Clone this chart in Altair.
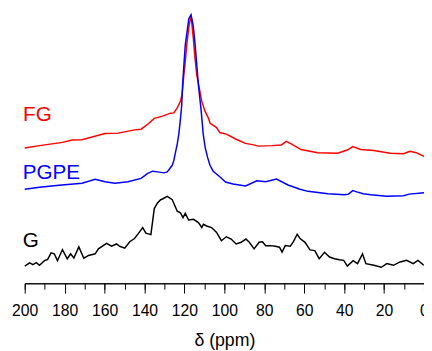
import altair as alt
import pandas as pd

series_names = ["FG", "PGPE", "G"]
series_colors = ["#ff0000", "#0000ff", "#000000"]

fg_ppm = [200, 192.6, 181.1, 176.2, 171.3, 159.8, 153.2, 145, 141.7, 138.4, 135.1, 131, 127, 125.3,
          123.6, 122, 121.2, 120.3, 119.6, 118.7, 117.8, 116.7, 115.6, 114.6, 113.8, 111.3,
          109.7, 108, 107.2, 103.9, 102.3, 99, 94.1, 89.5, 85.9, 82.9, 76.4, 71.4, 69, 66.5, 61.6,
          53.3, 43.3, 38.4, 35.7, 31.7, 25.1, 17, 10.3, 7, 3.9, 0]
fg_int = [137.5, 140, 143.3, 145.7, 146, 152.3, 152.7, 156, 156.7, 161.7, 167.7, 170, 173, 173.3,
          178.3, 185, 191.7, 211.7, 225, 245, 260, 273, 250, 227, 211.7, 185,
          175, 168, 163, 158.3, 153.3, 151.7, 146.5, 142.3, 141, 139.5, 140, 140.7, 144.3, 141.7, 136,
          132.7, 132.3, 135.5, 139, 136, 135, 132.3, 131.7, 134.3, 132.8, 129]

pgpe_ppm = [200, 192.6, 182.8, 171.3, 164.7, 159.8, 154.8, 148.3, 141.7, 138.4, 135.9, 133.5, 130.2,
            128.6, 126.1, 125.3, 123.6, 122.8, 122, 121.4, 120.9, 119.6, 117.8, 116.7, 115.6, 114.6,
            113, 111.6, 110.6, 109.6, 108.4, 107.2, 105.6, 102.3, 99.4, 95.7, 89.4, 83.7, 79.3, 73.9,
            68.1, 62.1, 58.1, 48.1, 39.9, 37.8, 35.7, 33.3, 30.4, 26.7, 18.7, 10.3, 7.4, 0]
pgpe_int = [95.7, 97.7, 99.7, 101.7, 105.7, 103.3, 101.7, 103.3, 106.7, 111.7, 114, 113.3, 112.3,
            113.3, 120, 125, 141.7, 152, 167, 180, 202, 242, 269, 273, 262, 241.7,
            201.7, 175, 152, 138, 128, 120, 114, 108.3, 103, 101, 99, 104.3, 103.3, 106,
            100, 95.7, 93.5, 91, 90, 90.7, 94.2, 92.7, 91, 90, 88.5, 89, 90.7, 92]

g_ppm = [200, 197.5, 195.9, 194.2, 192.6, 190.1, 188.5, 186.8, 185.2, 183.6, 181.1, 178.7, 177, 175.4,
         172.9, 170.4, 168, 164.7, 163.1, 159, 156.5, 154, 152.4, 149.9, 147.4, 145, 143.3, 140.9,
         139.3, 136.8, 135.1, 133.5, 131.9, 131, 128.6, 126.1, 123.6, 122, 120.7, 119.6, 117.9, 115.4,
         113, 111.3, 110.5, 108.9, 106.4, 103.9, 101.5, 99, 96.6, 94.1, 91.6, 89.2, 87.5, 85.1, 82.6,
         80.9, 79.3, 76.8, 74.4, 72.4, 71.1, 69.5, 67, 65.4, 63.5, 62.1, 59.6, 57.1, 54.7, 52.5, 49.8,
         47.3, 44.8, 42.4, 40.2, 38.4, 35.5, 33.3, 30.8, 29.1, 25.1, 21.4, 18.6, 15.3, 12, 8.7, 5.4,
         3, 0.1]
g_int = [17.5, 20.8, 19, 21, 18.3, 23, 24.3, 31, 30, 23, 34.3, 25, 30, 25.7,
         37, 25.5, 28.3, 30, 35, 40.7, 37.7, 40, 37.7, 35.7, 42.3, 45.5, 50, 56.7,
         51, 49.5, 76, 81.7, 85, 85.7, 88.3, 85, 73.3, 71.7, 66.7, 71, 64.3, 65,
         61.7, 56.7, 60, 58.3, 56.7, 51.7, 43.3, 47.3, 45, 40, 41.7, 45, 41.7, 35, 41.7,
         42.3, 38.3, 38.3, 37.7, 36.7, 31.7, 38.3, 37.7, 42.3, 50, 45.5, 41.7, 34, 33.3, 25, 31.5,
         26.7, 25, 24, 23.3, 17.5, 23, 20, 30, 20, 18.3, 16.3, 20, 18.3, 21.7, 23.3, 20,
         23.3, 18.3]

label_ppm = [200.8, 201, 201]
label_int = [165, 106, 37]

minor_ticks = list(range(0, 201, 10))
major_ticks = list(range(0, 201, 20))

df = pd.concat([
    pd.DataFrame({"ppm": fg_ppm, "intensity": fg_int, "series": "FG"}),
    pd.DataFrame({"ppm": pgpe_ppm, "intensity": pgpe_int, "series": "PGPE"}),
    pd.DataFrame({"ppm": g_ppm, "intensity": g_int, "series": "G"}),
])
lab_df = pd.DataFrame({"ppm": label_ppm, "intensity": label_int, "series": series_names})

color = alt.Color("series:N", scale=alt.Scale(domain=series_names, range=series_colors), legend=None)
y_enc = alt.Y("intensity:Q", scale=alt.Scale(domain=[0, 277], nice=False, zero=False), axis=None)

lines = alt.Chart(df).mark_line(strokeWidth=1.5, clip=False).encode(
    x=alt.X("ppm:Q", scale=alt.Scale(domain=[200, 0], nice=False, zero=False),
            axis=alt.Axis(values=minor_ticks, labels=False, tickSize=6, title=None, grid=False,
                          orient="bottom", domainColor="black", tickColor="black")),
    y=y_enc,
    color=color,
    detail="series:N",
)

labels = alt.Chart(lab_df).mark_text(align="left", baseline="alphabetic", fontSize=21,
                                     font="Liberation Sans").encode(
    x=alt.X("ppm:Q", scale=alt.Scale(domain=[200, 0], nice=False, zero=False),
            axis=alt.Axis(values=major_ticks, tickSize=10, title="δ (ppm)", grid=False,
                          orient="bottom", format="d", labelFontSize=16, labelFont="Liberation Sans",
                          labelColor="black", labelPadding=10, titleFont="Liberation Sans",
                          titleFontSize=18, titleFontWeight="normal", titleColor="black",
                          titlePadding=13, domainColor="black", tickColor="black",
                          labelFlush=False, labelOverlap=False)),
    y=y_enc,
    text="series:N",
    color=color,
)

chart = alt.layer(lines, labels).resolve_scale(x="independent").properties(
    width=406, height=277,
    autosize=alt.AutoSizeParams(type="none"),
    padding={"left": 17, "top": 0, "right": 0, "bottom": 72},
).configure_view(strokeWidth=0)

chart.save("out.html", embed_options={"renderer": "svg", "actions": False})
